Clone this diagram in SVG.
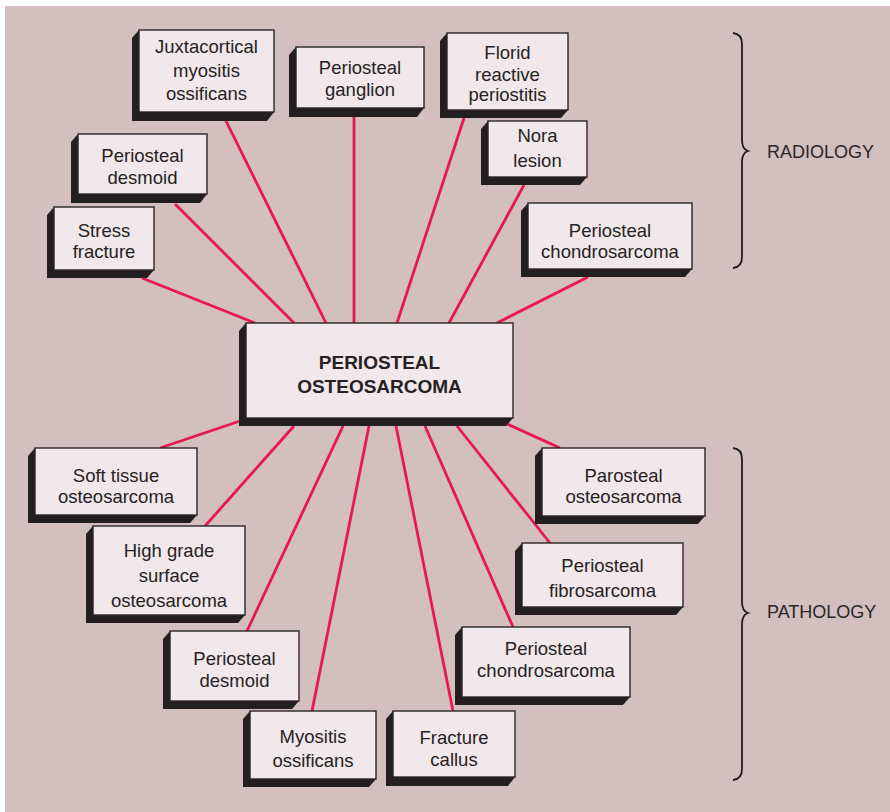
<svg xmlns="http://www.w3.org/2000/svg" width="890" height="812" viewBox="0 0 890 812">
  <style>
    .shadow { fill: #231f20; }
    .face { fill: #f0e8ea; stroke: #2a2627; stroke-width: 1.4; }
    .label { font-family: "Liberation Sans", Arial, sans-serif; font-size: 18.5px; fill: #262223; text-anchor: middle; }
    .title { font-family: "Liberation Sans", Arial, sans-serif; font-size: 19px; font-weight: bold; fill: #262223; text-anchor: middle; }
    .side { font-family: "Liberation Sans", Arial, sans-serif; font-size: 18px; fill: #2a2627; }
    .link { stroke: #e8174f; stroke-width: 2.8; fill: none; stroke-linecap: butt; }
    .brace { stroke: #1f1b1c; stroke-width: 1.8; fill: none; }
  </style>

  <rect x="0" y="0" width="890" height="812" fill="#ffffff"/>
  <rect x="5" y="6" width="885" height="806" fill="#d3bec0"/>

  <!-- connectors: centre box to each entity -->
  <g id="connectors">
    <line class="link" x1="142" y1="278" x2="255" y2="323"/>
    <line class="link" x1="175" y1="204" x2="294" y2="323"/>
    <line class="link" x1="226" y1="121" x2="326" y2="323"/>
    <line class="link" x1="354" y1="117" x2="354" y2="323"/>
    <line class="link" x1="464" y1="118" x2="397" y2="323"/>
    <line class="link" x1="524" y1="185" x2="449" y2="323"/>
    <line class="link" x1="588" y1="277" x2="497" y2="323"/>

    <line class="link" x1="240" y1="421" x2="160" y2="448"/>
    <line class="link" x1="294" y1="426" x2="205" y2="526"/>
    <line class="link" x1="343" y1="426" x2="247" y2="631"/>
    <line class="link" x1="369" y1="426" x2="312" y2="711"/>
    <line class="link" x1="396" y1="426" x2="453" y2="711"/>
    <line class="link" x1="425" y1="426" x2="513" y2="627"/>
    <line class="link" x1="457" y1="426" x2="550" y2="543"/>
    <line class="link" x1="505" y1="423" x2="560" y2="448"/>
  </g>

  <!-- radiology entities -->
  <g id="juxtacortical-myositis">
    <polygon class="shadow" points="139,30 132,38 132,121 267,121 274,112 139,112"/>
    <rect class="face" x="139" y="30" width="135" height="82"/>
    <text class="label" x="206.5" y="53">Juxtacortical</text>
    <text class="label" x="206.5" y="77">myositis</text>
    <text class="label" x="206.5" y="100">ossificans</text>
  </g>
  <g id="periosteal-desmoid-radiology">
    <polygon class="shadow" points="78,134 71,142 71,203 200,203 207,194 78,194"/>
    <rect class="face" x="78" y="134" width="129" height="60"/>
    <text class="label" x="142.5" y="162">Periosteal</text>
    <text class="label" x="142.5" y="184">desmoid</text>
  </g>
  <g id="stress-fracture">
    <polygon class="shadow" points="54,207 47,215 47,278 147,278 154,270 54,270"/>
    <rect class="face" x="54" y="207" width="100" height="63"/>
    <text class="label" x="104" y="237">Stress</text>
    <text class="label" x="104" y="258">fracture</text>
  </g>
  <g id="periosteal-ganglion">
    <polygon class="shadow" points="296,47 289,55 289,117 417,117 424,108 296,108"/>
    <rect class="face" x="296" y="47" width="128" height="61"/>
    <text class="label" x="360" y="74">Periosteal</text>
    <text class="label" x="360" y="96">ganglion</text>
  </g>
  <g id="florid-reactive-periostitis">
    <polygon class="shadow" points="447,33 440,41 440,118 561,118 568,110 447,110"/>
    <rect class="face" x="447" y="33" width="121" height="77"/>
    <text class="label" x="507.5" y="59">Florid</text>
    <text class="label" x="507.5" y="81">reactive</text>
    <text class="label" x="507.5" y="101">periostitis</text>
  </g>
  <g id="nora-lesion">
    <polygon class="shadow" points="488,121 481,129 481,185 580,185 587,177 488,177"/>
    <rect class="face" x="488" y="121" width="99" height="56"/>
    <text class="label" x="537.5" y="142">Nora</text>
    <text class="label" x="537.5" y="167">lesion</text>
  </g>
  <g id="periosteal-chondrosarcoma-radiology">
    <polygon class="shadow" points="528,203 521,211 521,277 685,277 692,269 528,269"/>
    <rect class="face" x="528" y="203" width="164" height="66"/>
    <text class="label" x="610" y="237">Periosteal</text>
    <text class="label" x="610" y="258">chondrosarcoma</text>
  </g>

  <!-- central entity -->
  <g id="periosteal-osteosarcoma">
    <polygon class="shadow" points="246,323 239,331 239,426 506,426 513,418 246,418"/>
    <rect class="face" x="246" y="323" width="267" height="95"/>
    <text class="title" x="379.5" y="369">PERIOSTEAL</text>
    <text class="title" x="379.5" y="393">OSTEOSARCOMA</text>
  </g>

  <!-- pathology entities -->
  <g id="soft-tissue-osteosarcoma">
    <polygon class="shadow" points="35,448 28,456 28,523 190,523 197,515 35,515"/>
    <rect class="face" x="35" y="448" width="162" height="67"/>
    <text class="label" x="116" y="482">Soft tissue</text>
    <text class="label" x="116" y="503">osteosarcoma</text>
  </g>
  <g id="high-grade-surface-osteosarcoma">
    <polygon class="shadow" points="93,526 86,534 86,623 238,623 245,615 93,615"/>
    <rect class="face" x="93" y="526" width="152" height="89"/>
    <text class="label" x="169" y="557">High grade</text>
    <text class="label" x="169" y="582">surface</text>
    <text class="label" x="169" y="607">osteosarcoma</text>
  </g>
  <g id="periosteal-desmoid-pathology">
    <polygon class="shadow" points="170,631 163,639 163,709 292,709 299,701 170,701"/>
    <rect class="face" x="170" y="631" width="129" height="70"/>
    <text class="label" x="234.5" y="665">Periosteal</text>
    <text class="label" x="234.5" y="687">desmoid</text>
  </g>
  <g id="myositis-ossificans">
    <polygon class="shadow" points="250,711 243,719 243,787 369,787 376,779 250,779"/>
    <rect class="face" x="250" y="711" width="126" height="68"/>
    <text class="label" x="313" y="743">Myositis</text>
    <text class="label" x="313" y="767">ossificans</text>
  </g>
  <g id="fracture-callus">
    <polygon class="shadow" points="393,711 386,719 386,786 508,786 515,777 393,777"/>
    <rect class="face" x="393" y="711" width="122" height="66"/>
    <text class="label" x="454" y="744">Fracture</text>
    <text class="label" x="454" y="766">callus</text>
  </g>
  <g id="periosteal-chondrosarcoma-pathology">
    <polygon class="shadow" points="462,627 455,635 455,705 623,705 630,697 462,697"/>
    <rect class="face" x="462" y="627" width="168" height="70"/>
    <text class="label" x="546" y="655">Periosteal</text>
    <text class="label" x="546" y="677">chondrosarcoma</text>
  </g>
  <g id="periosteal-fibrosarcoma">
    <polygon class="shadow" points="522,543 515,551 515,615 676,615 683,607 522,607"/>
    <rect class="face" x="522" y="543" width="161" height="64"/>
    <text class="label" x="602.5" y="572">Periosteal</text>
    <text class="label" x="602.5" y="597">fibrosarcoma</text>
  </g>
  <g id="parosteal-osteosarcoma">
    <polygon class="shadow" points="542,448 535,456 535,524 698,524 705,516 542,516"/>
    <rect class="face" x="542" y="448" width="163" height="68"/>
    <text class="label" x="623.5" y="482">Parosteal</text>
    <text class="label" x="623.5" y="503">osteosarcoma</text>
  </g>

  <!-- grouping braces -->
  <g id="radiology-group">
    <path class="brace" d="M733,33 Q742,34 742,44 L742,140 Q742,149 748,151 Q742,153 742,162 L742,257 Q742,267 733,268"/>
    <text class="side" x="767" y="158">RADIOLOGY</text>
  </g>
  <g id="pathology-group">
    <path class="brace" d="M733,448 Q742,449 742,459 L742,602 Q742,611 748,613 Q742,615 742,624 L742,769 Q742,779 733,780"/>
    <text class="side" x="767" y="618">PATHOLOGY</text>
  </g>
</svg>
